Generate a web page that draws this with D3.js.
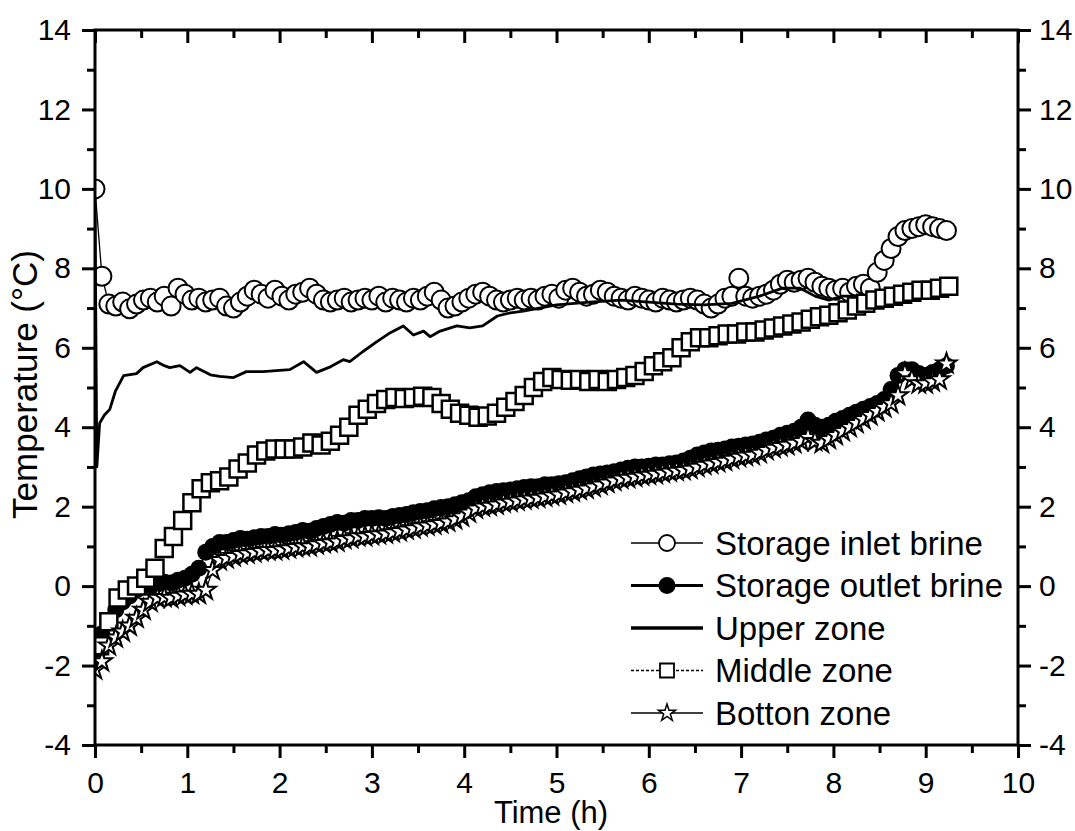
<!DOCTYPE html>
<html>
<head>
<meta charset="utf-8">
<script src="https://cdn.jsdelivr.net/npm/d3@7"></script>
<style>
  body { margin: 0; background: #fff; }
  svg { display: block; }
  text { font-family: "Liberation Sans", Arial, sans-serif; fill: #000; }
</style>
</head>
<body>
<svg id="chart" width="1075" height="831"></svg>
<script>
// ---- data ----
const seriesNames = ["Storage inlet brine", "Storage outlet brine", "Upper zone", "Middle zone", "Botton zone"];
const xTicks = [0, 1, 2, 3, 4, 5, 6, 7, 8, 9, 10];
const yTicks = [-4, -2, 0, 2, 4, 6, 8, 10, 12, 14];

// brine and bottom-zone readings, logged every 0.075 h from t = 0
const denseStep = 0.075;
const inletBrine = [
  10.0, 7.8, 7.1, 7.05, 7.15, 6.98, 7.1, 7.2,
  7.25, 7.15, 7.3, 7.05, 7.5, 7.35, 7.2, 7.25,
  7.15, 7.2, 7.25, 7.05, 7.0, 7.15, 7.3, 7.45,
  7.35, 7.25, 7.45, 7.3, 7.2, 7.35, 7.4, 7.5,
  7.35, 7.2, 7.15, 7.2, 7.25, 7.15, 7.2, 7.25,
  7.2, 7.3, 7.15, 7.25, 7.2, 7.15, 7.25, 7.2,
  7.3, 7.4, 7.2, 7.0, 7.05, 7.15, 7.25, 7.35,
  7.4, 7.3, 7.2, 7.15, 7.2, 7.25, 7.2, 7.25,
  7.2, 7.3, 7.35, 7.25, 7.45, 7.5, 7.4, 7.3,
  7.35, 7.45, 7.4, 7.3, 7.25, 7.2, 7.3, 7.25,
  7.2, 7.15, 7.25, 7.2, 7.15, 7.2, 7.25, 7.2,
  7.1, 7.0, 7.1, 7.25, 7.3, 7.75, 7.3, 7.25,
  7.3, 7.35, 7.45, 7.6, 7.7, 7.65, 7.7, 7.75,
  7.65, 7.55, 7.5, 7.45, 7.5, 7.4, 7.55, 7.6,
  7.5, 7.9, 8.2, 8.5, 8.8, 8.95, 9.0, 9.05,
  9.1, 9.05, 9.0, 8.95
];
const outletBrine = [
  -1.6, -1.2, -0.9, -0.6, -0.4, -0.25, -0.1, 0.0,
  0.0, 0.05, 0.1, 0.08, 0.15, 0.2, 0.3, 0.45,
  0.85, 1.0, 1.1, 1.1, 1.15, 1.2, 1.18, 1.22,
  1.25, 1.25, 1.3, 1.28, 1.32, 1.35, 1.4, 1.38,
  1.45, 1.5, 1.55, 1.6, 1.58, 1.65, 1.65, 1.7,
  1.7, 1.72, 1.7, 1.75, 1.78, 1.8, 1.85, 1.88,
  1.9, 1.95, 1.98, 2.0, 2.05, 2.1, 2.15, 2.25,
  2.3, 2.35, 2.38, 2.4, 2.42, 2.45, 2.48, 2.5,
  2.5, 2.55, 2.55, 2.58, 2.6, 2.65, 2.7, 2.75,
  2.8, 2.82, 2.85, 2.88, 2.92, 2.97, 3.0, 3.0,
  3.02, 3.05, 3.05, 3.08, 3.1, 3.15, 3.22, 3.3,
  3.35, 3.4, 3.42, 3.45, 3.5, 3.52, 3.55, 3.58,
  3.62, 3.68, 3.72, 3.8, 3.85, 3.9, 4.0, 4.18,
  4.05, 4.0, 4.05, 4.15, 4.22, 4.3, 4.38, 4.45,
  4.52, 4.6, 4.7, 4.95, 5.3, 5.45, 5.45, 5.35,
  5.3, 5.38, 5.45, 5.55
];
const bottomZone = [
  -2.1, -1.9, -1.5, -1.3, -1.15, -1.0, -0.8, -0.6,
  -0.4, -0.3, -0.28, -0.3, -0.25, -0.22, -0.2, -0.2,
  -0.1, 0.4, 0.65, 0.7, 0.75, 0.8, 0.82, 0.85,
  0.88, 0.9, 0.9, 0.92, 0.95, 0.98, 1.0, 1.0,
  1.05, 1.08, 1.1, 1.12, 1.18, 1.2, 1.25, 1.25,
  1.28, 1.3, 1.32, 1.35, 1.38, 1.42, 1.45, 1.5,
  1.52, 1.55, 1.58, 1.62, 1.68, 1.75, 1.85, 1.95,
  2.0, 2.02, 2.05, 2.1, 2.12, 2.15, 2.18, 2.2,
  2.22, 2.25, 2.28, 2.3, 2.35, 2.38, 2.42, 2.45,
  2.5, 2.55, 2.6, 2.65, 2.7, 2.72, 2.75, 2.78,
  2.8, 2.82, 2.85, 2.88, 2.9, 2.92, 2.95, 3.0,
  3.05, 3.08, 3.12, 3.15, 3.2, 3.25, 3.28, 3.3,
  3.35, 3.42, 3.48, 3.52, 3.55, 3.6, 3.65, 3.75,
  3.65, 3.6, 3.7, 3.8, 3.9, 4.0, 4.1, 4.2,
  4.3, 4.4, 4.5, 4.6, 4.8, 5.35, 5.2, 5.1,
  5.1, 5.15, 5.2, 5.6
];

// middle-zone readings, every 0.1 h from t = 0.05
const middleStart = 0.05;
const middleStep = 0.1;
const middleZone = [
  -1.5, -0.9, -0.3, -0.1, 0.0, 0.2, 0.45, 0.95, 1.25, 1.65,
  2.1, 2.45, 2.6, 2.65, 2.75, 2.95, 3.1, 3.3, 3.4, 3.45,
  3.45, 3.45, 3.5, 3.6, 3.55, 3.65, 3.8, 4.0, 4.3, 4.45,
  4.6, 4.7, 4.75, 4.72, 4.75, 4.78, 4.75, 4.6, 4.45, 4.35,
  4.3, 4.25, 4.28, 4.35, 4.5, 4.65, 4.8, 5.0, 5.15, 5.25,
  5.2, 5.18, 5.2, 5.15, 5.2, 5.15, 5.2, 5.25, 5.3, 5.4,
  5.55, 5.65, 5.75, 6.0, 6.15, 6.25, 6.25, 6.3, 6.35, 6.35,
  6.4, 6.4, 6.45, 6.5, 6.55, 6.6, 6.65, 6.72, 6.78, 6.82,
  6.88, 6.95, 7.05, 7.12, 7.2, 7.25, 7.3, 7.35, 7.4, 7.45,
  7.45, 7.5, 7.55
];

// upper-zone trace (continuous line)
const upperZoneTime = [
  0, 0.02, 0.05, 0.1, 0.16, 0.22, 0.31, 0.45, 0.52, 0.67,
  0.75, 0.81, 0.92, 1.03, 1.1, 1.25, 1.35, 1.5, 1.64, 1.82,
  2.11, 2.26, 2.4, 2.55, 2.69, 2.76, 2.9, 3.05, 3.2, 3.34,
  3.45, 3.56, 3.63, 3.74, 3.92, 4.06, 4.2, 4.36, 4.5, 4.64,
  5.0, 5.36, 5.7, 6.0, 6.3, 6.6, 6.9, 7.2, 7.45, 7.64,
  7.8, 7.95, 8.1, 8.3
];
const upperZoneTemp = [
  9.6, 3.0, 4.1, 4.3, 4.45, 4.9, 5.3, 5.35, 5.5, 5.65,
  5.55, 5.5, 5.55, 5.38, 5.5, 5.32, 5.28, 5.25, 5.4, 5.4,
  5.45, 5.65, 5.38, 5.52, 5.7, 5.65, 5.9, 6.15, 6.38, 6.55,
  6.32, 6.42, 6.28, 6.42, 6.55, 6.5, 6.55, 6.8, 6.88, 6.92,
  7.08, 7.15, 7.2, 7.15, 7.1, 7.08, 7.12, 7.3, 7.5, 7.5,
  7.3, 7.2, 7.3, 7.3
];

// ---- layout ----
const svg = d3.select("#chart");
const plot = { left: 95, right: 1018, top: 30, bottom: 745 };
const x = d3.scaleLinear().domain([0, 10]).range([plot.left, plot.right]);
const y = d3.scaleLinear().domain([-4, 14]).range([plot.bottom, plot.top]);

const denseTime = i => i * denseStep;
const toPoints = (vals, t) => vals.map((v, i) => [t(i), v]);
const inletPts = toPoints(inletBrine, denseTime);
const outletPts = toPoints(outletBrine, denseTime);
const bottomPts = toPoints(bottomZone, denseTime);
const middlePts = toPoints(middleZone, i => middleStart + i * middleStep);
const upperPts = upperZoneTime.map((t, i) => [t, upperZoneTemp[i]]);

const line = d3.line().x(d => x(d[0])).y(d => y(d[1]));

svg.append("defs").append("clipPath").attr("id", "plot-clip")
  .append("rect")
  .attr("x", plot.left).attr("y", plot.top)
  .attr("width", plot.right - plot.left).attr("height", plot.bottom - plot.top);

// ---- series ----
const starPath = R => d3.symbol(d3.symbolStar, (R * R) / 0.8908)();
const squarePath = s => d3.symbol(d3.symbolSquare, s * s)();

const series = svg.append("g").attr("clip-path", "url(#plot-clip)");

// storage inlet brine: thin line + open circles
series.append("path").attr("d", line(inletPts))
  .attr("fill", "none").attr("stroke", "#000").attr("stroke-width", 1.3);
series.append("g").selectAll("circle").data(inletPts).join("circle")
  .attr("cx", d => x(d[0])).attr("cy", d => y(d[1])).attr("r", 9.5)
  .attr("fill", "#fff").attr("stroke", "#000").attr("stroke-width", 2);

// storage outlet brine: line + filled circles
series.append("path").attr("d", line(outletPts))
  .attr("fill", "none").attr("stroke", "#000").attr("stroke-width", 2);
series.append("g").selectAll("circle").data(outletPts).join("circle")
  .attr("cx", d => x(d[0])).attr("cy", d => y(d[1])).attr("r", 8.5)
  .attr("fill", "#000");

// upper zone: solid line
series.append("path").attr("d", line(upperPts))
  .attr("fill", "none").attr("stroke", "#000").attr("stroke-width", 2.8)
  .attr("stroke-linejoin", "round");

// middle zone: dashed line + open squares
series.append("path").attr("d", line(middlePts))
  .attr("fill", "none").attr("stroke", "#000").attr("stroke-width", 1.2)
  .attr("stroke-dasharray", "3,2");
series.append("g").selectAll("path").data(middlePts).join("path")
  .attr("transform", d => `translate(${x(d[0])},${y(d[1])})`)
  .attr("d", squarePath(17))
  .attr("fill", "#fff").attr("stroke", "#000").attr("stroke-width", 2.5);

// bottom zone: thin line + open stars
series.append("path").attr("d", line(bottomPts))
  .attr("fill", "none").attr("stroke", "#000").attr("stroke-width", 1.2);
series.append("g").selectAll("path").data(bottomPts).join("path")
  .attr("transform", d => `translate(${x(d[0])},${y(d[1])})`)
  .attr("d", starPath(10.5))
  .attr("fill", "#fff").attr("stroke", "#000").attr("stroke-width", 2)
  .attr("stroke-linejoin", "miter");

// ---- axes ----
const majorLen = 13, minorLen = 8, axisW = 3;
const xMinor = d3.range(0.5, 10, 1);
const yMinor = d3.range(-3, 14, 2);
const plain = d => String(d);

function styleAxis(g) {
  g.select(".domain").remove();
  g.selectAll(".tick line").attr("stroke", "#000").attr("stroke-width", axisW);
  g.selectAll(".tick text").attr("font-size", 30).attr("fill", "#000");
}

// bottom
svg.append("g").attr("transform", `translate(0,${plot.bottom})`)
  .call(d3.axisBottom(x).tickValues(xTicks).tickSize(majorLen).tickPadding(14).tickFormat(plain))
  .call(styleAxis);
svg.append("g").attr("transform", `translate(0,${plot.bottom})`)
  .call(d3.axisBottom(x).tickValues(xMinor).tickSize(minorLen).tickFormat(""))
  .call(styleAxis);
// top (ticks point inward)
svg.append("g").attr("transform", `translate(0,${plot.top})`)
  .call(d3.axisTop(x).tickValues(xTicks).tickSize(-majorLen).tickFormat(""))
  .call(styleAxis);
svg.append("g").attr("transform", `translate(0,${plot.top})`)
  .call(d3.axisTop(x).tickValues(xMinor).tickSize(-minorLen).tickFormat(""))
  .call(styleAxis);
// left
svg.append("g").attr("transform", `translate(${plot.left},0)`)
  .call(d3.axisLeft(y).tickValues(yTicks).tickSize(majorLen).tickPadding(11).tickFormat(plain))
  .call(styleAxis);
svg.append("g").attr("transform", `translate(${plot.left},0)`)
  .call(d3.axisLeft(y).tickValues(yMinor).tickSize(minorLen).tickFormat(""))
  .call(styleAxis);
// right
svg.append("g").attr("transform", `translate(${plot.right},0)`)
  .call(d3.axisRight(y).tickValues(yTicks).tickSize(majorLen).tickPadding(8).tickFormat(plain))
  .call(styleAxis);
svg.append("g").attr("transform", `translate(${plot.right},0)`)
  .call(d3.axisRight(y).tickValues(yMinor).tickSize(minorLen).tickFormat(""))
  .call(styleAxis);

// frame
svg.append("rect")
  .attr("x", plot.left).attr("y", plot.top)
  .attr("width", plot.right - plot.left).attr("height", plot.bottom - plot.top)
  .attr("fill", "none").attr("stroke", "#000").attr("stroke-width", axisW);

// axis titles
svg.append("text")
  .attr("transform", `translate(37,${(plot.top + plot.bottom) / 2 - 3}) rotate(-90)`)
  .attr("text-anchor", "middle").attr("font-size", 35)
  .text("Temperature (°C)");
svg.append("text")
  .attr("x", 551).attr("y", 823)
  .attr("text-anchor", "middle").attr("font-size", 31)
  .text("Time (h)");

// ---- legend ----
const legend = svg.append("g");
const legendRows = [
  { name: seriesNames[0], mark: "circle", lw: 1.5, dash: null },
  { name: seriesNames[1], mark: "dot", lw: 3, dash: null },
  { name: seriesNames[2], mark: null, lw: 3.5, dash: null },
  { name: seriesNames[3], mark: "square", lw: 1.5, dash: "3,2" },
  { name: seriesNames[4], mark: "star", lw: 1.5, dash: null }
];
legendRows.forEach((r, i) => {
  const cy = 543 + i * 42.5;
  const g = legend.append("g").attr("transform", `translate(0,${cy})`);
  g.append("line").attr("x1", 631).attr("x2", 703).attr("y1", 0).attr("y2", 0)
    .attr("stroke", "#000").attr("stroke-width", r.lw)
    .attr("stroke-dasharray", r.dash);
  const mx = 667;
  if (r.mark === "circle") {
    g.append("circle").attr("cx", mx).attr("cy", 0).attr("r", 8)
      .attr("fill", "#fff").attr("stroke", "#000").attr("stroke-width", 1.8);
  } else if (r.mark === "dot") {
    g.append("circle").attr("cx", mx).attr("cy", 0).attr("r", 8.5).attr("fill", "#000");
  } else if (r.mark === "square") {
    g.append("path").attr("transform", `translate(${mx},0)`).attr("d", squarePath(14))
      .attr("fill", "#fff").attr("stroke", "#000").attr("stroke-width", 1.8);
  } else if (r.mark === "star") {
    g.append("path").attr("transform", `translate(${mx},0)`).attr("d", starPath(9))
      .attr("fill", "#fff").attr("stroke", "#000").attr("stroke-width", 1.5);
  }
  g.append("text").attr("x", 715).attr("y", 0).attr("dy", "0.36em")
    .attr("font-size", 33).text(r.name);
});
</script>
</body>
</html>
